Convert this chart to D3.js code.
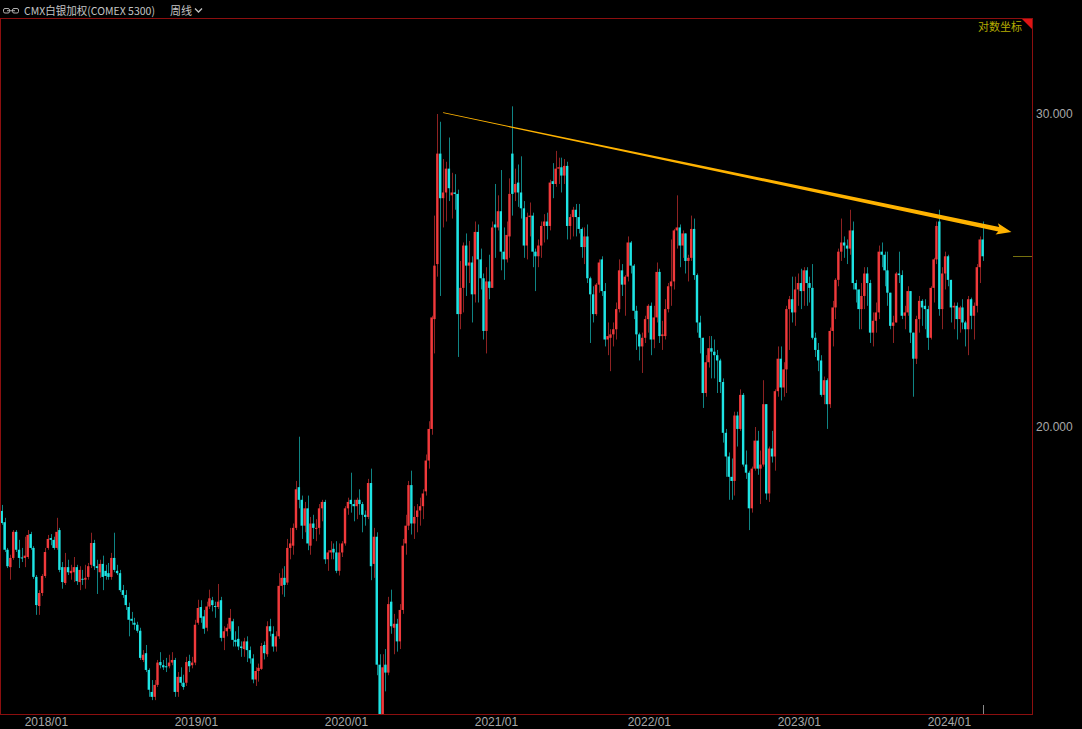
<!DOCTYPE html>
<html><head><meta charset="utf-8">
<script src="https://cdn.jsdelivr.net/npm/d3@7"></script>
<style>html,body{margin:0;padding:0;background:#000;overflow:hidden}</style>
</head><body>
<svg id="chart" width="1082" height="729"></svg>
<script>
// ---- data (weekly candles, first week = week of 2017-09-11) ----
const firstWeek = "2017-09-11";
const openP = [
17.94,17.68,17.06,16.68,16.88,17.46,17.06,16.89,16.88,16.90,
17.41,17.10,16.47,15.86,16.13,16.49,17.10,17.32,17.28,17.10,
17.50,16.68,16.34,16.68,16.55,16.57,16.68,16.36,16.43,16.41,
16.47,16.73,17.21,16.70,16.57,16.75,16.60,16.55,16.47,16.88,
16.60,16.55,16.19,16.09,15.84,15.60,15.52,15.48,15.36,14.79,
14.92,14.60,14.19,14.10,14.32,14.75,14.69,14.67,14.67,14.74,
14.79,14.19,14.47,14.36,14.36,14.77,14.69,14.74,15.52,15.84,
15.65,15.42,15.85,15.98,15.86,15.84,15.98,15.22,15.35,15.40,
15.55,15.18,15.20,15.05,15.00,15.15,14.98,14.82,14.42,14.58,
14.62,15.08,14.90,15.45,15.30,15.05,15.25,16.28,16.45,16.35,
17.10,17.15,17.55,18.50,18.20,17.60,18.00,17.15,17.65,17.55,
17.55,18.00,18.15,16.85,17.00,17.08,17.00,16.60,17.00,17.20,
18.00,18.20,18.10,18.05,18.20,18.10,17.85,17.80,18.60,16.75,
17.35,14.70,12.60,14.70,14.55,15.95,15.42,15.50,15.15,15.78,
17.20,17.60,18.55,17.65,17.80,17.95,18.05,18.40,19.15,19.95,
23.00,24.70,28.50,26.90,27.10,27.95,27.00,27.10,27.05,23.15,
23.95,25.30,24.65,24.75,23.75,25.75,24.85,24.25,22.65,24.15,
23.95,26.00,25.90,26.45,25.10,24.85,25.60,28.50,27.10,27.45,
27.10,26.55,25.30,26.25,26.30,25.10,24.95,25.30,25.95,26.10,
25.95,27.50,27.40,27.95,28.00,27.70,28.05,25.95,26.25,26.50,
26.25,25.85,25.25,25.60,24.25,23.75,23.15,24.05,24.85,23.85,
22.40,22.45,22.55,22.70,23.30,24.50,24.05,24.30,25.40,24.65,
23.25,22.55,22.20,22.45,23.00,23.40,22.40,23.05,24.45,22.50,
22.50,23.30,24.00,24.15,25.80,25.90,25.30,25.70,24.80,24.90,
25.85,24.35,22.90,22.45,20.90,21.75,22.15,22.05,21.95,21.80,
21.20,19.85,19.25,18.75,18.65,20.30,19.95,20.85,19.05,18.85,
18.00,18.95,19.65,18.95,19.05,20.60,18.35,19.45,19.25,20.95,
21.85,21.05,21.55,23.30,23.60,23.20,23.90,24.10,23.85,24.50,
24.10,23.95,22.45,22.10,21.80,20.85,21.25,20.60,22.65,23.35,
24.20,25.10,25.40,25.30,25.20,25.80,24.10,23.90,23.30,23.70,
24.40,24.10,22.60,22.95,23.20,25.10,25.00,24.50,23.80,22.80,
22.90,24.40,24.35,23.10,23.20,23.85,22.60,21.85,23.00,23.55,
23.40,23.30,22.45,23.95,24.85,26.10,23.30,24.40,24.95,24.20,
23.35,23.40,23.00,23.35,22.90,22.70,23.60,23.10,23.40,24.60,
25.50];
const highP = [
18.08,17.78,17.10,16.95,17.50,17.50,17.28,17.10,17.35,17.50,
17.46,17.14,16.51,16.19,16.53,17.10,17.39,17.41,17.35,17.78,
17.55,16.79,16.99,16.84,16.73,16.90,16.73,16.70,16.62,16.73,
16.77,17.44,17.28,16.84,16.84,16.93,16.73,16.77,16.99,17.44,
16.73,16.62,16.30,16.19,15.93,15.74,15.62,15.54,15.42,14.98,
15.08,14.63,14.41,14.41,14.79,14.94,14.79,14.83,14.89,14.94,
14.83,14.56,14.65,14.51,14.85,14.89,14.85,15.58,15.99,15.98,
15.78,15.95,16.20,16.05,15.95,16.32,16.05,15.45,15.50,15.80,
15.60,15.35,15.45,15.15,15.22,15.25,15.05,14.90,14.65,14.72,
15.12,15.15,15.55,15.60,15.45,15.35,16.55,16.65,16.70,17.30,
17.55,17.65,18.65,19.75,18.30,18.15,18.30,17.80,17.85,17.75,
18.10,18.20,18.20,17.05,17.25,17.20,17.25,17.20,17.25,18.05,
18.25,18.85,18.20,18.25,18.45,18.15,17.95,18.70,18.95,17.55,
17.45,14.90,14.90,15.00,16.05,16.20,15.70,15.60,15.90,17.30,
17.85,18.65,18.90,18.05,18.10,18.25,18.45,19.30,20.15,23.10,
26.30,30.00,29.70,28.30,28.20,29.10,27.80,27.75,27.20,24.80,
25.40,25.70,25.45,24.95,26.10,26.00,25.20,24.40,24.60,25.00,
26.10,27.40,27.00,27.90,25.90,26.10,27.60,30.30,27.95,28.10,
28.40,26.80,26.40,26.75,26.40,25.20,25.50,26.10,26.35,26.40,
27.55,28.15,28.60,28.35,28.35,28.30,28.20,26.35,26.60,26.70,
26.70,25.90,25.90,26.00,24.30,24.00,24.10,24.85,24.95,24.10,
22.90,22.70,22.90,23.50,24.85,24.70,24.35,25.60,25.45,24.70,
23.40,22.60,22.60,23.10,23.45,23.50,23.40,24.75,24.55,22.95,
23.60,24.10,25.50,25.85,27.00,26.00,25.80,25.70,25.00,26.30,
26.20,24.40,23.10,22.45,21.95,22.50,22.50,22.40,22.10,21.85,
21.30,19.95,19.35,19.20,20.40,20.40,21.00,20.90,19.40,18.90,
19.00,20.00,19.90,19.40,21.25,20.60,19.50,19.90,21.00,22.20,
22.20,21.75,23.40,23.70,24.30,24.30,24.40,24.55,24.60,24.60,
24.30,24.70,22.60,22.30,21.95,21.35,21.30,22.75,23.55,24.25,
25.20,26.20,25.60,25.50,26.50,26.10,24.20,23.90,24.10,24.60,
24.60,24.20,23.20,23.50,25.30,25.40,25.10,25.10,23.80,23.10,
24.45,25.10,24.50,23.40,24.00,23.85,22.60,23.10,23.70,23.60,
23.60,23.40,24.00,24.90,26.10,26.50,24.60,25.10,25.00,24.20,
23.50,23.50,23.40,23.60,22.95,23.70,23.65,23.50,24.70,25.60,
26.10];
const lowP = [
17.62,17.01,16.66,16.41,16.84,17.01,16.66,16.79,16.68,16.86,
17.06,16.43,15.68,15.68,16.07,16.45,17.06,17.16,17.06,17.06,
16.57,16.22,16.30,16.51,16.41,16.36,16.30,16.19,16.30,16.22,
16.41,16.66,16.62,16.11,16.45,16.19,16.41,16.41,16.41,16.57,
16.51,16.15,16.03,15.78,15.25,15.48,15.38,15.32,14.79,14.75,
14.56,14.10,14.04,14.04,14.28,14.63,14.60,14.56,14.63,14.69,
14.10,14.10,14.30,14.23,14.30,14.56,14.63,14.69,15.48,15.52,
15.30,15.35,15.80,15.75,15.62,15.80,15.15,14.98,15.25,15.35,
15.05,15.05,14.98,14.85,14.85,14.75,14.72,14.35,14.30,14.38,
14.60,14.80,14.85,15.25,14.95,14.95,15.20,16.10,16.05,16.30,
16.85,16.95,17.50,18.00,17.30,17.45,17.05,16.95,17.30,17.25,
17.40,17.70,16.75,16.60,16.85,16.85,16.55,16.50,16.90,17.15,
17.85,17.90,17.70,17.75,17.85,17.45,17.60,17.75,16.40,16.45,
14.50,11.70,12.30,14.20,14.50,15.30,14.90,14.95,15.00,15.70,
16.95,17.50,17.40,17.30,17.45,17.60,17.75,18.30,18.95,19.80,
22.00,24.30,23.70,25.90,26.10,26.80,26.20,26.50,21.90,22.70,
23.20,23.70,24.10,22.90,23.50,23.50,23.90,22.40,22.00,23.60,
23.95,24.90,25.80,24.50,24.20,24.75,24.90,26.30,26.80,26.60,
26.20,24.90,24.85,25.60,24.60,23.85,24.60,24.90,25.40,25.50,
25.80,26.90,27.30,27.40,27.10,27.40,25.50,25.50,25.60,25.60,
25.70,24.90,24.70,24.10,22.30,22.90,23.10,23.80,23.70,22.20,
21.95,21.50,22.20,22.40,23.20,23.70,23.10,24.15,24.40,23.00,
22.10,21.80,21.45,22.30,22.60,21.95,22.15,22.90,22.30,22.10,
22.40,23.20,23.40,23.90,25.20,24.60,24.90,24.40,24.15,24.80,
24.20,22.60,22.00,20.50,20.80,21.60,21.30,21.30,20.90,20.90,
19.60,18.75,18.20,18.20,18.30,19.50,19.90,19.00,18.70,17.50,
17.90,18.90,18.80,18.10,19.00,18.20,18.15,19.10,18.90,20.80,
20.70,20.80,20.90,22.10,22.90,22.80,23.40,23.30,23.40,23.40,
23.50,22.40,21.90,21.50,20.80,20.60,19.95,20.50,22.20,23.00,
24.00,24.80,24.90,24.70,25.00,23.90,23.50,22.70,22.70,23.30,
23.40,22.30,22.20,22.60,23.00,24.60,24.00,23.40,22.70,22.30,
22.90,24.10,23.00,22.70,23.10,22.30,20.80,21.70,22.60,22.80,
22.70,22.10,22.40,23.50,24.70,23.10,22.70,23.90,24.00,22.90,
22.70,22.40,22.60,22.70,22.20,21.95,22.70,22.40,23.20,24.10,
24.80];
const closeP = [
17.66,17.06,16.70,16.88,17.46,17.06,16.88,16.87,16.93,17.39,
17.10,16.47,15.88,16.13,16.49,17.01,17.30,17.28,17.10,17.46,
16.62,16.36,16.68,16.57,16.60,16.68,16.38,16.62,16.41,16.45,
16.70,17.21,16.70,16.66,16.75,16.47,16.49,16.47,16.88,16.62,
16.55,16.19,16.09,15.88,15.58,15.56,15.48,15.36,14.83,14.89,
14.60,14.23,14.10,14.32,14.74,14.69,14.65,14.65,14.74,14.79,
14.19,14.47,14.36,14.28,14.75,14.67,14.74,15.48,15.82,15.62,
15.40,15.85,16.02,15.88,15.84,15.95,15.22,15.35,15.42,15.62,
15.18,15.14,15.05,15.02,15.15,14.98,14.82,14.42,14.58,14.64,
15.06,14.92,15.45,15.35,15.05,15.25,16.28,16.45,16.30,17.10,
17.20,17.55,18.45,18.20,17.60,18.00,17.20,17.65,17.55,17.55,
18.00,18.15,16.85,17.00,17.05,17.00,16.60,17.00,17.20,18.00,
18.15,18.10,18.05,18.20,18.10,17.85,17.80,18.60,16.70,17.35,
14.70,12.60,14.65,14.55,15.90,15.45,15.50,15.15,15.78,17.15,
17.60,18.55,17.65,17.80,17.95,18.05,18.35,19.15,19.95,23.05,
24.65,28.50,26.90,27.10,27.95,27.25,27.10,27.05,23.15,23.95,
25.30,24.65,24.75,23.75,25.75,24.85,24.25,22.65,24.15,23.95,
25.90,25.90,26.45,25.10,24.85,25.65,27.05,27.05,27.40,27.10,
26.55,25.30,26.25,26.30,25.10,24.95,25.30,25.95,26.10,25.95,
27.45,27.40,27.95,28.00,27.70,28.05,25.95,26.25,26.50,26.25,
25.85,25.25,25.60,24.25,23.75,23.15,24.05,24.75,23.85,22.40,
22.50,22.55,22.70,23.30,24.50,24.05,24.30,25.40,24.65,23.25,
22.55,22.20,22.45,23.00,23.40,22.40,23.05,24.45,22.50,22.55,
23.30,24.00,24.15,25.80,25.90,25.30,25.70,24.80,24.90,25.85,
24.35,22.90,22.45,20.90,21.75,22.15,22.05,21.95,21.80,21.20,
19.85,19.25,18.75,18.65,20.30,19.95,20.85,19.05,18.85,18.00,
18.95,19.65,18.95,19.05,20.60,18.35,19.45,19.25,20.95,21.85,
21.05,21.55,23.30,23.60,23.20,23.90,24.10,23.85,24.50,24.10,
23.95,22.45,22.10,21.80,20.85,21.25,20.60,22.65,23.35,24.20,
25.10,25.40,25.30,25.20,25.80,24.10,23.90,23.30,23.70,24.40,
24.10,22.60,22.95,23.20,25.10,25.00,24.50,23.80,22.80,22.90,
24.40,24.35,23.10,23.20,23.85,22.60,21.85,23.00,23.55,23.35,
23.30,22.45,23.95,24.85,25.95,23.30,24.40,24.95,24.20,23.35,
23.40,23.00,23.35,22.90,22.70,23.60,23.10,23.40,24.60,25.50,
24.95];
const yTickValues = [20, 30];
const xTickLabels = ["2018/01","2019/01","2020/01","2021/01","2022/01","2023/01","2024/01"];
const titleText = "CMX白银加权(COMEX 5300)";
const periodText = "周线";
const scaleModeText = "对数坐标";
// trend line endpoints: [week index, price]
const trendWeeks = [153, 350];
const trendPrices = [30.05, 25.75];

// ---- drawing ----
const svg = d3.select("#chart");
const W = 1082, H = 729;
const P = {left: 0, top: 18, right: 1033, bottom: 714};
const N = closeP.length;

svg.append("rect").attr("width", W).attr("height", H).attr("fill", "#000");

const x = d3.scaleLinear().domain([0, N - 1]).range([1.7, 982.6]);
const y = d3.scaleLog().domain([20, 30]).range([427, 114]);

const weeks = d3.range(N).map(i => d3.timeDay.offset(new Date(firstWeek + "T00:00:00"), i * 7));

svg.append("clipPath").attr("id", "plotclip")
  .append("rect").attr("x", P.left + 1).attr("y", P.top + 1)
  .attr("width", P.right - P.left - 2).attr("height", P.bottom - P.top - 1);

const candles = d3.range(N).map(i => ({i, o: openP[i], h: highP[i], l: lowP[i], c: closeP[i]}));
const upBody = "#f0393b", downBody = "#1ee4e4";
const upWick = "#8e2222", downWick = "#0f8484";

const g = svg.append("g").attr("clip-path", "url(#plotclip)");
const cg = g.selectAll("g.candle").data(candles).join("g").attr("class", "candle");
cg.append("line")
  .attr("x1", d => Math.round(x(d.i)) + 0.5).attr("x2", d => Math.round(x(d.i)) + 0.5)
  .attr("y1", d => y(d.h)).attr("y2", d => y(d.l))
  .attr("stroke", d => d.c >= d.o ? upWick : downWick).attr("stroke-width", 1);
cg.append("rect")
  .attr("x", d => x(d.i) - 1.2).attr("width", 2.4)
  .attr("y", d => Math.min(y(d.o), y(d.c)))
  .attr("height", d => Math.max(1, Math.abs(y(d.o) - y(d.c))))
  .attr("fill", d => d.c >= d.o ? upBody : downBody);

// trend arrow
(function () {
  const x0 = x(trendWeeks[0]), y0 = y(trendPrices[0]);
  const x1 = x(trendWeeks[1]), y1 = y(trendPrices[1]);
  const dx = x1 - x0, dy = y1 - y0, L = Math.hypot(dx, dy);
  const ux = dx / L, uy = dy / L, nx = -uy, ny = ux;
  const headLen = 13, shaftEnd = 2.3, wing = 5.8;
  const bx = x1 - ux * headLen, by = y1 - uy * headLen;
  const pts = [
    [x0 + nx * 0.35, y0 + ny * 0.35],
    [bx + nx * shaftEnd, by + ny * shaftEnd],
    [bx - ux * 2 + nx * wing, by - uy * 2 + ny * wing],
    [x1, y1],
    [bx - ux * 2 - nx * wing, by - uy * 2 - ny * wing],
    [bx - nx * shaftEnd, by - ny * shaftEnd],
    [x0 - nx * 0.35, y0 - ny * 0.35]
  ];
  svg.append("polygon").attr("points", pts.map(p => p.join(",")).join(" "))
    .attr("fill", "#ffb300");
})();

// frame
const frameColor = "#8c0f0f";
svg.append("line").attr("x1", 0).attr("x2", P.right).attr("y1", P.top + 0.5).attr("y2", P.top + 0.5).attr("stroke", frameColor);
svg.append("line").attr("x1", 0).attr("x2", P.right).attr("y1", P.bottom + 0.5).attr("y2", P.bottom + 0.5).attr("stroke", frameColor);
svg.append("line").attr("x1", 0.5).attr("x2", 0.5).attr("y1", P.top).attr("y2", P.bottom).attr("stroke", frameColor);
svg.append("line").attr("x1", P.right - 0.5).attr("x2", P.right - 0.5).attr("y1", P.top).attr("y2", P.bottom + 1).attr("stroke", frameColor);
svg.append("polygon").attr("points", `${P.right - 11},${P.top + 1} ${P.right - 1},${P.top + 1} ${P.right - 1},${P.top + 11}`).attr("fill", "#e01414");

// last-price marker and last bar tick
svg.append("line").attr("x1", 1013).attr("x2", P.right - 1)
  .attr("y1", Math.round(y(closeP[N - 1])) + 0.5).attr("y2", Math.round(y(closeP[N - 1])) + 0.5)
  .attr("stroke", "#75700f");
svg.append("line").attr("x1", Math.round(x(N - 1)) + 0.5).attr("x2", Math.round(x(N - 1)) + 0.5)
  .attr("y1", 705).attr("y2", P.bottom).attr("stroke", "#8a8a8a");

// y axis (right)
const yAxis = d3.axisRight(y).tickValues(yTickValues).tickFormat(d3.format(".3f")).tickSize(0).tickPadding(3);
const ya = svg.append("g").attr("transform", `translate(${P.right},0)`).call(yAxis);
ya.select(".domain").remove();
ya.selectAll("text").attr("fill", "#a8a8a8").style("font-family", "'Liberation Sans', Arial, sans-serif").style("font-size", "12px");

// x axis (bottom)
const tickIdx = xTickLabels.map(lbl => {
  const yr = +lbl.slice(0, 4);
  const jan1 = new Date(yr, 0, 1);
  return weeks.findIndex(w => d3.timeDay.offset(w, 4) >= jan1);
});
const xAxis = d3.axisBottom(x).tickValues(tickIdx).tickFormat((d, k) => xTickLabels[k]).tickSize(0).tickPadding(3);
const xa = svg.append("g").attr("transform", `translate(-2,${P.bottom})`).call(xAxis);
xa.select(".domain").remove();
xa.selectAll("text").attr("fill", "#a8a8a8").style("font-family", "'Liberation Sans', Arial, sans-serif").style("font-size", "12px");

// scale mode text
svg.append("text").attr("x", 978).attr("y", 31).text(scaleModeText)
  .attr("fill", "#b3ab00").style("font-family", "'Noto Sans CJK SC', sans-serif").style("font-size", "11px");

// title bar
const tb = svg.append("g");
tb.append("rect").attr("x", 3.5).attr("y", 8.5).attr("width", 6).attr("height", 4.5).attr("rx", 1.5)
  .attr("fill", "none").attr("stroke", "#b0b0b0");
tb.append("rect").attr("x", 12.5).attr("y", 8.5).attr("width", 6).attr("height", 4.5).attr("rx", 1.5)
  .attr("fill", "none").attr("stroke", "#b0b0b0");
tb.append("line").attr("x1", 7).attr("x2", 15).attr("y1", 10.75).attr("y2", 10.75).attr("stroke", "#b0b0b0");
tb.append("text").attr("x", 24).attr("y", 15).text(titleText)
  .attr("fill", "#c4c4c4").attr("textLength", 131).attr("lengthAdjust", "spacingAndGlyphs")
  .style("font-family", "'Noto Sans CJK SC', sans-serif").style("font-size", "11px");
tb.append("text").attr("x", 170).attr("y", 15).text(periodText)
  .attr("fill", "#c4c4c4").style("font-family", "'Noto Sans CJK SC', sans-serif").style("font-size", "11px");
tb.append("polyline").attr("points", "195,8.5 198.5,12 202,8.5")
  .attr("fill", "none").attr("stroke", "#c4c4c4").attr("stroke-width", 1.3);
</script>
</body></html>
